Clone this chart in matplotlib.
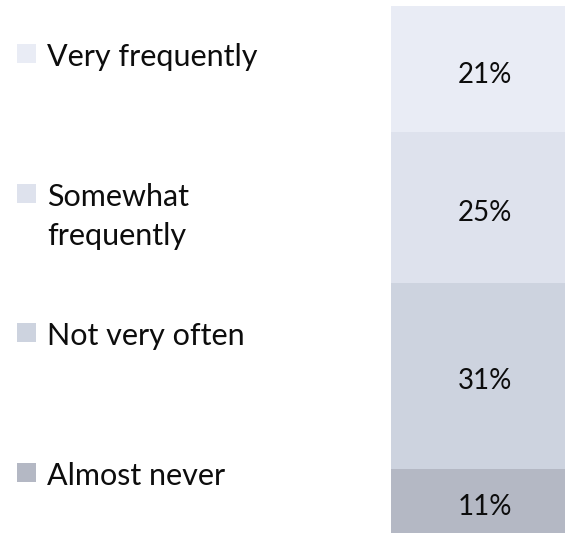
import matplotlib
matplotlib.use('Agg')
import matplotlib.pyplot as plt
from matplotlib.patches import Rectangle
from matplotlib.transforms import offset_copy

# answers, top of the bar first
categories = ['Very frequently', 'Somewhat\nfrequently', 'Not very often', 'Almost never']
values = [21, 25, 31, 11]
colors = ['#E9ECF5', '#DEE2ED', '#CDD3DF', '#B4B8C4']

W, H = 565, 533
FONT = 'Lato'
TEXT_COLOR = '#0d0d0d'

fig = plt.figure(figsize=(W / 100, H / 100), dpi=100)

# bar axes, the bar runs a little past the right and bottom edges
bar_left, bar_right, bar_top, bar_bottom = 391, 579, 6, 535
ax = fig.add_axes([bar_left / W, 1 - bar_bottom / H,
                   (bar_right - bar_left) / W, (bar_bottom - bar_top) / H])
lbl_tr = offset_copy(ax.transData, fig=fig, x=0, y=-3, units='dots')

bottom = 0
for name, v, c in reversed(list(zip(categories, values, colors))):
    ax.bar(0.5, v, width=1, bottom=bottom, color=c, edgecolor='none')
    ax.text(0.5, bottom + v / 2, f'{v}%', ha='center', va='center_baseline',
            fontsize=20, family=FONT, color=TEXT_COLOR, transform=lbl_tr)
    bottom += v

ax.set_xlim(0, 1)
ax.set_ylim(0, sum(values))
ax.axis('off')

# legend drawn by hand, one entry per category
sq = 19
line_h = 39
for i, (name, c) in enumerate(zip(categories, colors)):
    top = 44 + i * 139.7
    fig.add_artist(Rectangle((17 / W, 1 - (top + sq) / H), sq / W, sq / H,
                             transform=fig.transFigure, facecolor=c, edgecolor='none'))
    for k, line in enumerate(name.split('\n')):
        base = top + sq + 3 + k * line_h
        fig.text(47 / W, 1 - base / H, line, ha='left', va='baseline',
                 fontsize=22, family=FONT, color=TEXT_COLOR)

fig.savefig('out.png', dpi=100)
